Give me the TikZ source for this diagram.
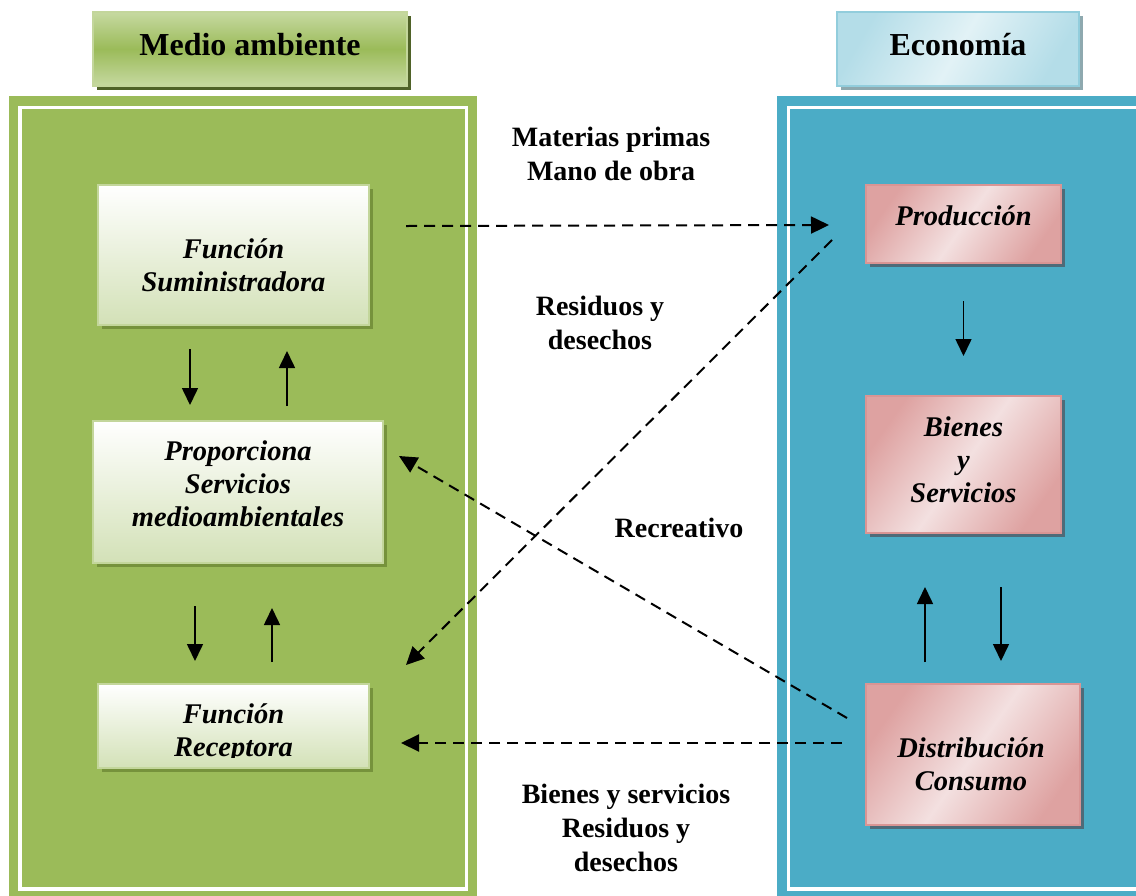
\documentclass[tikz,border=0pt]{standalone}
\usepackage{fontspec}
\setmainfont{Liberation Serif}
\usetikzlibrary{arrows.meta,calc,shadows}

% palette
\definecolor{gPanel}{HTML}{9BBB59}
\definecolor{gEdge}{HTML}{C3D69B}
\definecolor{gLight}{HTML}{C6D9A1}
\definecolor{gDark}{HTML}{4F6228}
\definecolor{gShade}{HTML}{76923C}
\definecolor{gLow}{HTML}{D3E1B7}
\definecolor{bPanel}{HTML}{4BACC6}
\definecolor{bEdge}{HTML}{92CDDC}
\definecolor{bLight}{HTML}{E2F2F6}
\definecolor{bMid}{HTML}{B4DDE8}
\definecolor{bShade}{HTML}{8EA9AF}
\definecolor{pLight}{HTML}{F3E0E0}
\definecolor{pDark}{HTML}{DEA2A1}
\definecolor{pEdge}{HTML}{D99594}
\definecolor{pShade}{HTML}{4E6B79}

\begin{document}
\begin{tikzpicture}[x=1pt,y=-1pt,
  titletext/.style={font=\bfseries\fontsize{32}{38}\selectfont},
  boxtext/.style={font=\bfseries\itshape\fontsize{28.5}{33}\selectfont, align=center, inner sep=0pt},
  label/.style={font=\bfseries\fontsize{28}{34}\selectfont, align=center},
  greentitle/.style={draw=gEdge, line width=2pt,
    top color=gLight, bottom color=gLight, middle color=gPanel,
    drop shadow={shadow xshift=4pt, shadow yshift=-4pt, fill=gDark, opacity=1}},
  bluetitle/.style={draw=bEdge, line width=2pt,
    top color=bMid, bottom color=bMid, middle color=bLight, shading angle=60,
    drop shadow={shadow xshift=4pt, shadow yshift=-4pt, fill=bShade, opacity=1}},
  greenbox/.style={draw=gEdge, line width=2pt,
    top color=white, bottom color=gLow,
    drop shadow={shadow xshift=4pt, shadow yshift=-4pt, fill=gShade, opacity=1}},
  pinkbox/.style={draw=pEdge, line width=2pt,
    top color=pDark, bottom color=pDark, middle color=pLight, shading angle=55,
    drop shadow={shadow xshift=4pt, shadow yshift=-4pt, fill=pShade, opacity=1}},
  flow/.style={line width=1.6pt, -{Triangle[length=17pt,width=16pt]}},
  dflow/.style={line width=2pt, dash pattern=on 11pt off 7pt,
    -{Triangle[length=18pt,width=17pt]}}
]
\clip (0,0) rectangle (1136,895);
\fill[white] (0,0) rectangle (1136,895);

% the two framed panels
\fill[gPanel] (9,96) rectangle (477,900);
\draw[white, line width=3.5pt] (20,107.5) rectangle (466.5,889);
\fill[bPanel] (777,96) rectangle (1140,900);
\draw[white, line width=3.5pt] (788.5,107.5) rectangle (1150,889);

% headings
\node[greentitle, minimum width=314pt, minimum height=74pt] (ma) at (250,49) {};
\node[titletext] (maT) at (250,45) {Medio ambiente};
\node[bluetitle, minimum width=242pt, minimum height=74pt] (eco) at (958,49) {};
\node[titletext] (ecoT) at (958,45) {Economía};

% environment functions
\node[greenbox, minimum width=271pt, minimum height=140pt] (sum) at (233.5,255) {};
\node[boxtext] (sumT) at (233.5,265) {Función\\Suministradora};
\node[greenbox, minimum width=290pt, minimum height=142pt] (prop) at (238,492) {};
\node[boxtext] (propT) at (238,484) {Proporciona\\Servicios\\medioambientales};
\node[greenbox, minimum width=271pt, minimum height=84pt] (rec) at (233.5,726) {};
\begin{scope}
  \clip (95,680) rectangle (375,757.5);
  \node[boxtext] (recT) at (233.5,733) {Función\\Receptora};
\end{scope}

% economy stages
\node[pinkbox, minimum width=195pt, minimum height=78pt] (prod) at (963.5,224) {};
\node[boxtext] (prodT) at (963.5,216) {Producción};
\node[pinkbox, minimum width=195pt, minimum height=137pt] (bys) at (963.5,464.5) {};
\node[boxtext] (bysT) at (963.5,460) {Bienes\\y\\Servicios};
\node[pinkbox, minimum width=214pt, minimum height=141pt] (dist) at (973,754.5) {};
\node[boxtext] (distT) at (971,764) {Distribución\\Consumo};

% flow labels
\node[label] (lMat) at (611,154) {Materias primas\\Mano de obra};
\node[label] (lRes) at (600,323) {Residuos y\\desechos};
\node[label] (lRec) at (679,528) {Recreativo};
\node[label] (lByS) at (626,828) {Bienes y servicios\\Residuos y\\desechos};

% vertical links inside the environment panel
\draw[flow] ($(sum.south)+(-43.5,23)$) -- ($(prop.north)+(-48,-15)$);
\draw[flow] ($(prop.north)+(49,-14)$) -- ($(sum.south)+(53.5,25)$);
\draw[flow] ($(prop.south)+(-43,42)$) -- ($(rec.north)+(-38.5,-22)$);
\draw[flow] ($(rec.north)+(38.5,-21)$) -- ($(prop.south)+(34,44)$);

% vertical links inside the economy panel
\draw[flow] ($(prod.south)+(0,37)$) -- ($(bys.north)+(0,-39)$);
\draw[flow] ($(dist.north)+(-48,-21)$) -- ($(bys.south)+(-38.5,53)$);
\draw[flow] ($(bys.south)+(37.5,53)$) -- ($(dist.north)+(28,-22)$);

% exchanges between the panels
\draw[dflow] ($(sum.east)+(36,-29)$) -- ($(prod.west)+(-36,1)$);
\draw[dflow] ($(prod.west)+(-33,16)$) -- ($(rec.east)+(36,-61)$);
\draw[dflow] ($(dist.west)+(-18,-36.5)$) -- ($(prop.east)+(15,-36)$);
\draw[dflow] ($(dist.west)+(-23,-11.5)$) -- ($(rec.east)+(31,17)$);
\end{tikzpicture}
\end{document}
